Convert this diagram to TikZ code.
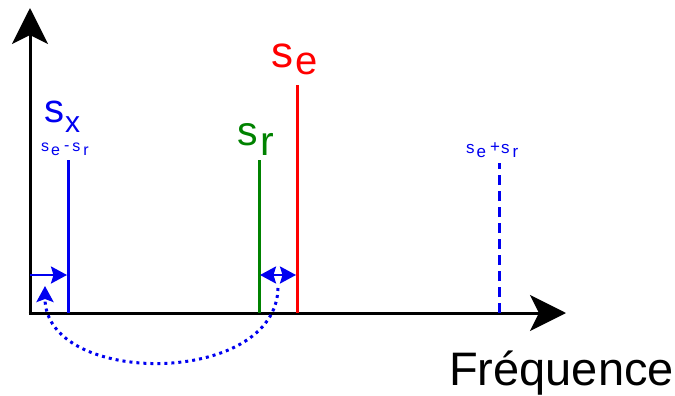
\documentclass[tikz,border=0pt]{standalone}
\usepackage{fontspec}
\setmainfont{Liberation Sans}
\usetikzlibrary{arrows.meta}
\definecolor{myblue}{RGB}{0,0,240}
\definecolor{mygreen}{RGB}{0,130,0}
\definecolor{myred}{RGB}{255,0,0}
\newcommand{\fs}[1]{\fontsize{#1}{#1}\selectfont}
\begin{document}
\begin{tikzpicture}[x=1pt,y=-1pt,
  axisline/.style={line width=3pt, -{Stealth[length=36pt,width=36pt,inset=9pt]}},
  peak/.style={line width=3pt},
  shiftarrow/.style={line width=2.5pt, myblue},
  lbl/.style={inner sep=0pt, anchor=base west}]
\useasboundingbox (0,0) rectangle (675,396);
% coordinates
\coordinate (O) at (30,313);
\coordinate (Otop) at (30,8);
\coordinate (Oend) at (566,313);
\coordinate (Ocorner) at (28.5,313);
\coordinate (xb) at (68,313);  \coordinate (xt) at (68,160);
\coordinate (rb) at (259,313); \coordinate (rt) at (259,160);
\coordinate (eb) at (297,313); \coordinate (et) at (297,85);
\coordinate (pb) at (499,313); \coordinate (pt) at (499,163);
\coordinate (a0) at (30,275);  \coordinate (a1) at (67,275);
\coordinate (d0) at (260,275); \coordinate (d1) at (296,275);
\coordinate (c0) at (278,288); \coordinate (c1) at (45,286);
% axes
\draw[axisline] (O) -- (Otop);
\draw[axisline] (Ocorner) -- (Oend);
% peaks
\draw[peak, myblue] (xb) -- (xt);
\draw[peak, mygreen] (rb) -- (rt);
\draw[peak, myred] (eb) -- (et);
\draw[peak, myblue, dash pattern=on 10pt off 6pt] (pb) -- (pt);
% shift arrows
\draw[shiftarrow, -{Stealth[length=16pt,width=17pt,inset=2.5pt]}] (a0) -- (a1);
\draw[shiftarrow, {Stealth[length=16pt,width=17pt,inset=2.5pt]}-{Stealth[length=16pt,width=17pt,inset=2.5pt]}] (d0) -- (d1);
\draw[line width=3pt, myblue, dash pattern=on 3pt off 4pt, -{Stealth[length=16pt,width=17pt,inset=3pt]}]
  (c0) .. controls (276,387) and (45,387) .. (c1);
% labels
\node[lbl, myblue] (lx) at (44,122) {\fs{40}s\kern1pt\raisebox{-10pt}{\fs{30}x}};
\node[lbl, myblue] (lxs) at (41,151) {\fs{16}s\kern2pt\raisebox{-4pt}{e}\kern4pt\raisebox{1pt}{-}\kern3pt s\kern3pt\raisebox{-4pt}{r}};
\node[lbl, myred] (le) at (271,67) {\fs{44}s\kern2pt\raisebox{-8pt}{\fs{40}e}};
\node[lbl, mygreen] (lr) at (237,145) {\fs{41}s\kern3pt\raisebox{-10pt}{r}};
\node[lbl, myblue] (lp) at (466,153) {\fs{17}s\kern2pt\raisebox{-4pt}{e}\kern4pt\raisebox{1pt}{+}\kern1pt s\kern3pt\raisebox{-4pt}{r}};
\node[lbl, black] (lf) at (449,385) {\fs{47}Fréquence};
\end{tikzpicture}
\end{document}
